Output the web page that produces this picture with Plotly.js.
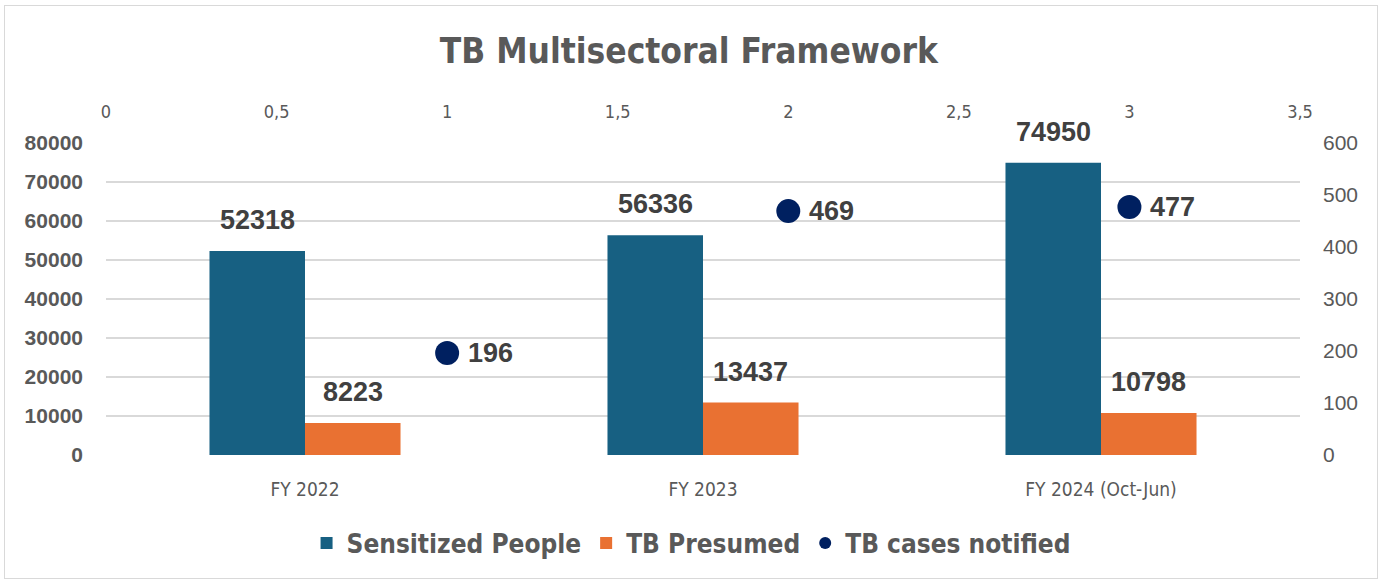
<!DOCTYPE html>
<html>
<head>
<meta charset="utf-8">
<script src="https://cdn.plot.ly/plotly-3.0.1.min.js"></script>
<style>
  html, body { margin: 0; padding: 0; background: #ffffff; }
  #wrap { position: relative; width: 1386px; height: 581px; }
  #chart { width: 1386px; height: 581px; }
  #frame { position: absolute; left: 4px; top: 5px; width: 1374px; height: 574px;
           border: 1.5px solid #d9d9d9; pointer-events: none; box-sizing: border-box; }
</style>
</head>
<body>
<div id="wrap">
  <div id="chart"></div>
  <div id="frame"></div>
</div>
<script>
// ---- data ----
const categories = ['FY 2022', 'FY 2023', 'FY 2024 (Oct-Jun)'];
const sensitizedPeople = [52318, 56336, 74950];
const tbPresumed = [8223, 13437, 10798];
const tbCasesX = [1, 2, 3];
const tbCasesNotified = [196, 469, 477];
const leftTickVals = [0, 10000, 20000, 30000, 40000, 50000, 60000, 70000, 80000];
const leftTickText = ['0', '10000', '20000', '30000', '40000', '50000', '60000', '70000', '80000'];
const rightTickVals = [0, 100, 200, 300, 400, 500, 600];
const rightTickText = ['0', '100', '200', '300', '400', '500', '600'];
const topTickVals = [0, 0.5, 1, 1.5, 2, 2.5, 3, 3.5];
const topTickText = ['0', '0,5', '1', '1,5', '2', '2,5', '3', '3,5'];

const narrow = '"Liberation Sans Narrow", "Arial Narrow", "DejaVu Sans Condensed", sans-serif';
const arial = '"Liberation Sans", Arial, sans-serif';
const bargap = 0.52;
const barW = (1 - bargap) / 2;

const traces = [
  {
    type: 'bar', name: 'Sensitized People', x: categories, y: sensitizedPeople,
    xaxis: 'x', yaxis: 'y', marker: { color: '#176082' }, hoverinfo: 'skip'
  },
  {
    type: 'bar', name: 'TB Presumed', x: categories, y: tbPresumed,
    xaxis: 'x', yaxis: 'y', marker: { color: '#E97132' }, hoverinfo: 'skip'
  },
  {
    type: 'scatter', mode: 'markers', name: 'TB cases notified',
    x: tbCasesX, y: tbCasesNotified, xaxis: 'x2', yaxis: 'y2',
    marker: { color: '#002060', size: 24 }, cliponaxis: false, hoverinfo: 'skip'
  }
];

const labelFont = { family: arial, size: 27, color: '#404040', weight: 'bold' };
const annotations = [];
categories.forEach((c, i) => {
  annotations.push({
    xref: 'x', yref: 'y', x: i - barW / 2, y: sensitizedPeople[i],
    text: String(sensitizedPeople[i]), showarrow: false, yanchor: 'bottom', yshift: 14,
    font: labelFont
  });
  annotations.push({
    xref: 'x', yref: 'y', x: i + barW / 2, y: tbPresumed[i],
    text: String(tbPresumed[i]), showarrow: false, yanchor: 'bottom', yshift: 14,
    font: labelFont
  });
});
tbCasesX.forEach((x, i) => {
  annotations.push({
    xref: 'x2', yref: 'y2', x: x, y: tbCasesNotified[i],
    text: String(tbCasesNotified[i]), showarrow: false, xanchor: 'left', xshift: 19,
    font: labelFont
  });
});

const layout = {
  width: 1386, height: 581,
  margin: { l: 106, r: 86, t: 143, b: 126, pad: 0 },
  paper_bgcolor: '#ffffff', plot_bgcolor: '#ffffff',
  title: {
    text: '<b>TB Multisectoral Framework</b>',
    x: 0.497, xanchor: 'center', y: 0.913, yanchor: 'middle',
    font: { family: narrow, size: 35, color: '#595959' }
  },
  barmode: 'group', bargap: bargap, bargroupgap: 0,
  showlegend: true,
  legend: {
    orientation: 'h', x: 0.49, xanchor: 'center', y: -0.282, yanchor: 'middle',
    font: { family: narrow, size: 26, color: '#595959', weight: 'bold' },
    itemsizing: 'constant', traceorder: 'normal', itemwidth: 30
  },
  xaxis: {
    type: 'category', range: [-0.5, 2.5], showgrid: false, zeroline: false, showline: false,
    ticks: '', ticklabelstandoff: 21,
    tickfont: { family: narrow, size: 19, color: '#595959' }, fixedrange: true
  },
  xaxis2: {
    overlaying: 'x', side: 'top', range: [0, 3.5], showgrid: false, zeroline: false,
    showline: false, ticks: '', tickmode: 'array', tickvals: topTickVals, ticktext: topTickText,
    ticklabelstandoff: 20,
    tickfont: { family: narrow, size: 18, color: '#595959' }, fixedrange: true
  },
  yaxis: {
    range: [0, 80000], tickmode: 'array', tickvals: leftTickVals, ticktext: leftTickText,
    showgrid: true, gridcolor: '#d9d9d9', gridwidth: 1.5, zeroline: false, showline: false,
    ticks: '', ticklabelstandoff: 22,
    tickfont: { family: arial, size: 21, color: '#595959', weight: 'bold' }, fixedrange: true
  },
  yaxis2: {
    overlaying: 'y', side: 'right', range: [0, 600], tickmode: 'array',
    tickvals: rightTickVals, ticktext: rightTickText, showgrid: false, zeroline: false,
    showline: false, ticks: '', ticklabelstandoff: 22,
    tickfont: { family: arial, size: 21, color: '#595959' }, fixedrange: true
  },
  annotations: annotations
};

Plotly.newPlot('chart', traces, layout, { displayModeBar: false, staticPlot: true });
</script>
</body>
</html>
